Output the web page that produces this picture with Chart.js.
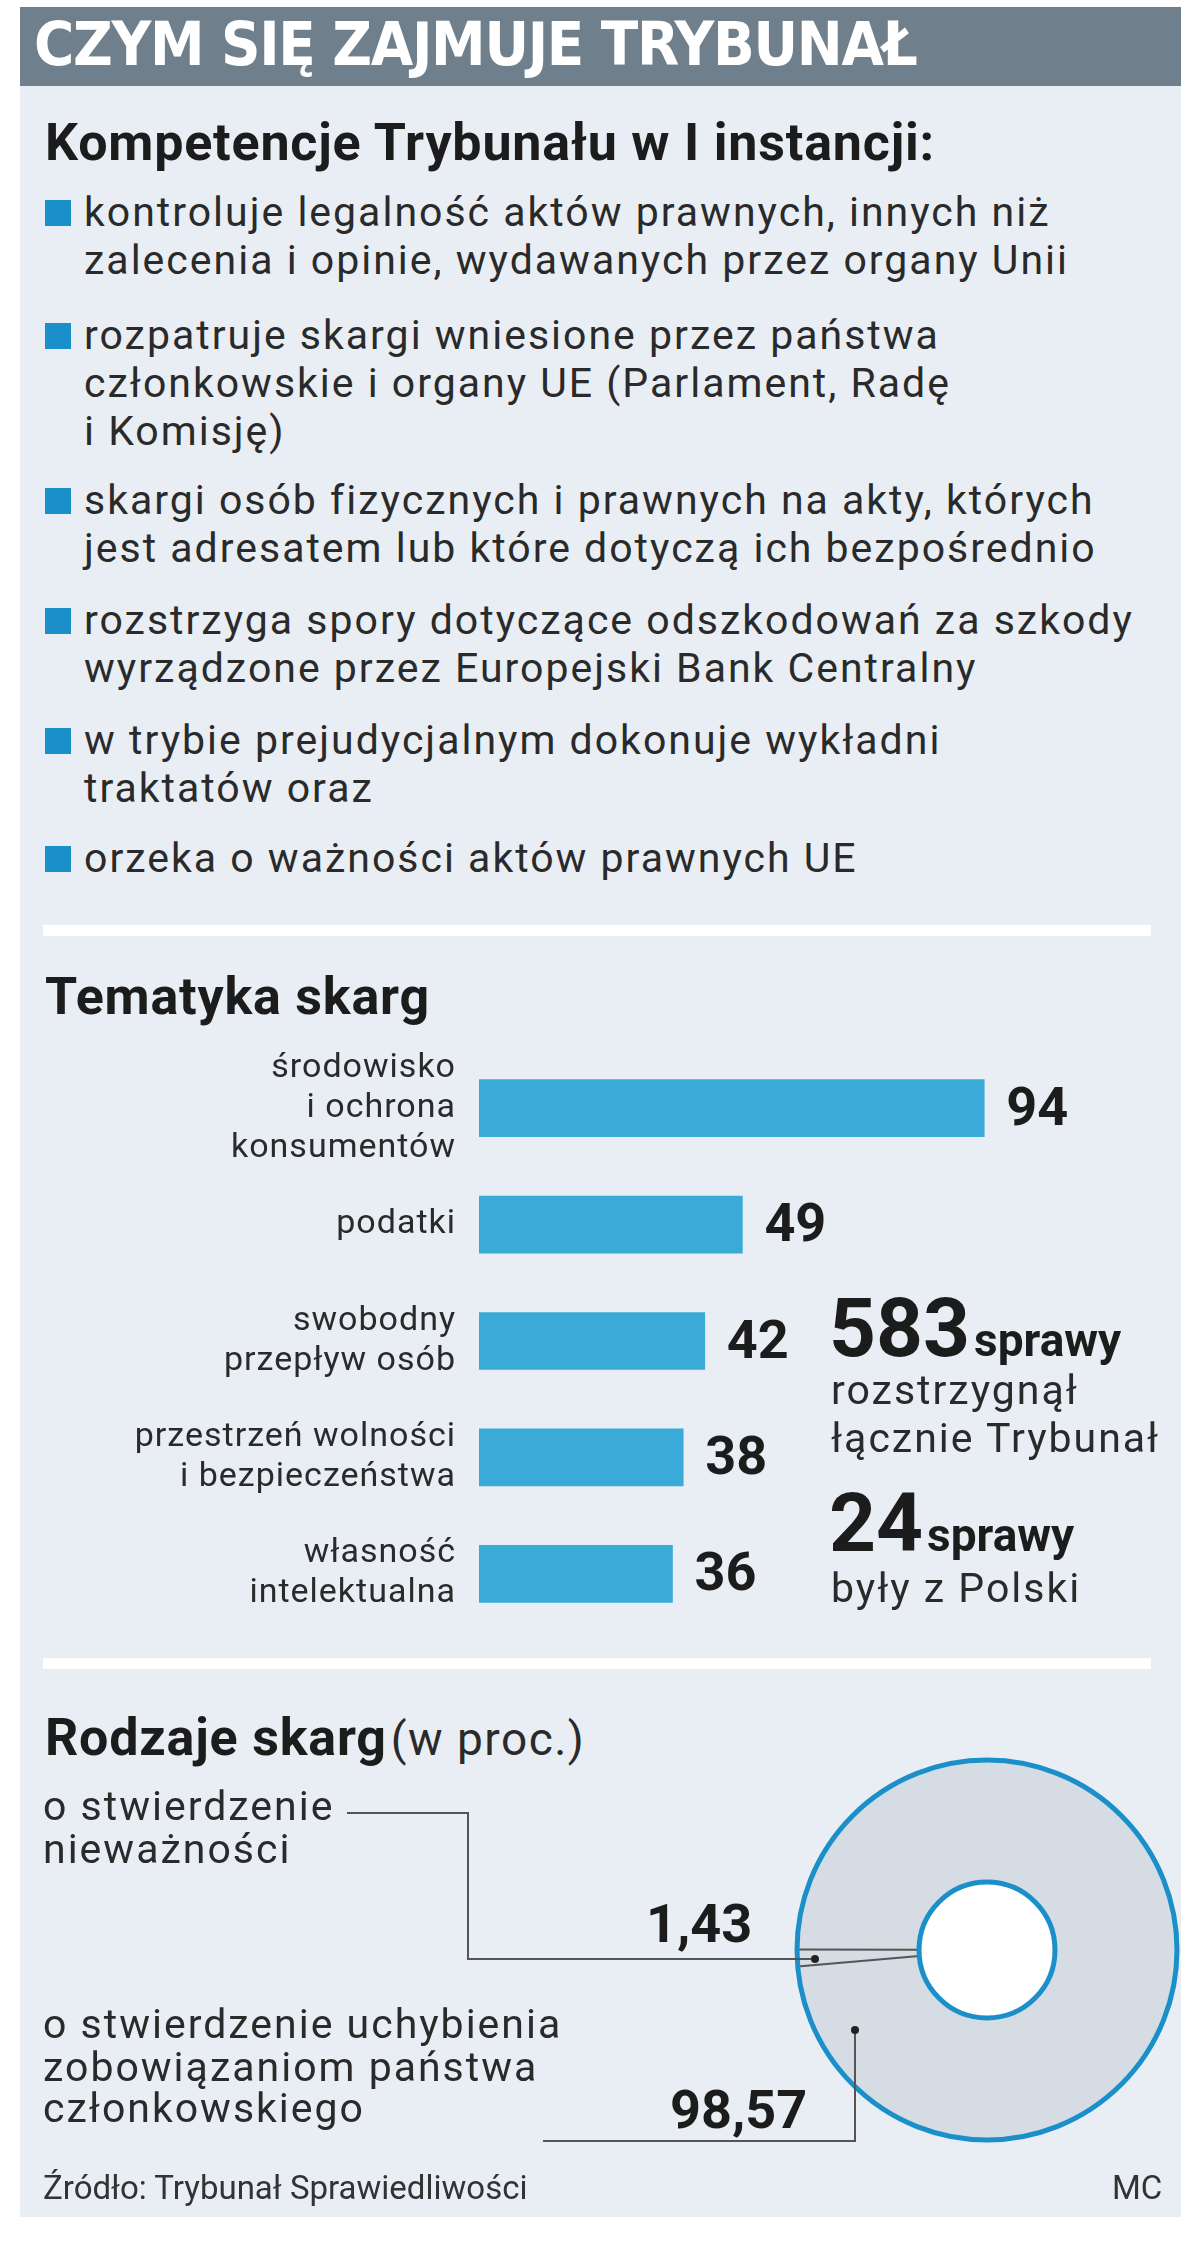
<!DOCTYPE html>
<html><head><meta charset="utf-8">
<script src="https://cdn.jsdelivr.net/npm/chart.js@4.4.0/dist/chart.umd.min.js"></script>
<style>
body{margin:0;width:1200px;height:2243px;background:#fff;position:relative;overflow:hidden;font-family:"Roboto","Liberation Sans",sans-serif;color:#222}
.a{position:absolute;white-space:nowrap}
#hdr{left:20px;top:7px;width:1161px;height:79px;background:#6f808c}
#panel{left:20px;top:86px;width:1161px;height:2131px;background:#e9eef4}
.sep{left:43px;width:1108px;height:11px;background:#fff}
.t{font-size:41px;line-height:48px;letter-spacing:2px;color:#2a2a2a}
.h{font-weight:bold;font-size:52px;line-height:60px;letter-spacing:0.8px;color:#1c1c1c}
.sq{width:26px;height:26px;background:#1a8fc9}
.big{font-weight:bold;font-size:82px;color:#1c1c1c}
.mid{font-weight:bold;font-size:46px;color:#1c1c1c}
</style></head><body>
<div class="a" id="hdr"></div>
<div class="a" id="panel"></div>
<div class="a" style="left:34px;top:8px;font-family:'DejaVu Sans Condensed','DejaVu Sans';font-weight:bold;font-size:61px;color:#fff;letter-spacing:-1.3px">CZYM SIĘ ZAJMUJE TRYBUNAŁ</div>
<div class="a h" style="left:45px;top:113px">Kompetencje Trybunału w I instancji:</div>
<div id="bullets"></div>
<div class="a sep" style="top:925px"></div>
<div class="a h" style="left:45px;top:967px">Tematyka skarg</div>
<div class="a" style="left:20px;top:1050px;width:1104px;height:582px"><canvas id="bar"></canvas></div>
<div class="a" style="left:829px;top:1278px;line-height:100px"><span class="big">583</span> <span class="mid">sprawy</span></div>
<div class="a t" style="left:831px;top:1366px">rozstrzygnął<br>łącznie Trybunał</div>
<div class="a" style="left:829px;top:1473px;line-height:100px"><span class="big">24</span> <span class="mid">sprawy</span></div>
<div class="a t" style="left:831px;top:1564px">były z Polski</div>
<div class="a sep" style="top:1658px"></div>
<div class="a" style="left:45px;top:1708px"><span class="h">Rodzaje skarg</span> <span style="font-size:46px;letter-spacing:1.5px;color:#2a2a2a">(w proc.)</span></div>
<div class="a" style="left:0;top:1700px;width:1200px;height:500px"><canvas id="pie"></canvas></div>
<div class="a" style="left:43px;top:2168px;font-size:33px;color:#333">Źródło: Trybunał Sprawiedliwości</div>
<div class="a" style="left:1112px;top:2168px;font-size:33px;color:#333">MC</div>
<script>
const bulletTexts=[
 ["kontroluje legalność aktów prawnych, innych niż","zalecenia i opinie, wydawanych przez organy Unii"],
 ["rozpatruje skargi wniesione przez państwa","członkowskie i organy UE (Parlament, Radę","i Komisję)"],
 ["skargi osób fizycznych i prawnych na akty, których","jest adresatem lub  które dotyczą ich bezpośrednio"],
 ["rozstrzyga spory dotyczące odszkodowań za szkody","wyrządzone przez Europejski Bank Centralny"],
 ["w trybie prejudycjalnym dokonuje wykładni","traktatów oraz"],
 ["orzeka o ważności aktów prawnych UE"]];
const bulletTops=[188,311,476,596,716,834];
const categories=[["środowisko","i ochrona","konsumentów"],["podatki"],["swobodny","przepływ osób"],["przestrzeń wolności","i bezpieczeństwa"],["własność","intelektualna"]];
const values=[94,49,42,38,36];
const pieLabels=["o stwierdzenie nieważności","o stwierdzenie uchybienia zobowiązaniom państwa członkowskiego"];
const pieValues=[1.43,98.57];

let html='';
bulletTexts.forEach((b,i)=>{
 html+=`<div class="a sq" style="left:45px;top:${bulletTops[i]+12}px"></div>`;
 html+=`<div class="a t" style="left:84px;top:${bulletTops[i]}px">${b.join('<br>')}</div>`;
});
document.getElementById('bullets').innerHTML=html;

const valPlugin={id:'vals',afterDatasetsDraw(c){const ctx=c.ctx;const m=c.getDatasetMeta(0);
 ctx.save();ctx.textBaseline='middle';
 m.data.forEach((b,i)=>{
  ctx.font='bold 54px Roboto';ctx.fillStyle='#1c1c1c';ctx.textAlign='left';ctx.letterSpacing='0px';
  ctx.fillText(String(values[i]),b.x+22,b.y+3);
  ctx.font='34px Roboto';ctx.fillStyle='#2a2a2a';ctx.textAlign='right';ctx.letterSpacing='1px';
  const L=categories[i],lh=40;
  L.forEach((s,j)=>ctx.fillText(s,436,b.y+(j-(L.length-1)/2)*lh));
 });ctx.restore();}};
new Chart(document.getElementById('bar'),{type:'bar',
 data:{labels:categories.map(c=>c.join(' ')),datasets:[{data:values,backgroundColor:'#3aaad8',barThickness:57}]},
 options:{indexAxis:'y',responsive:true,maintainAspectRatio:false,animation:false,
  layout:{padding:0},
  plugins:{legend:{display:false},tooltip:{enabled:false}},
  scales:{x:{min:0,max:120,display:false},
   y:{grid:{display:false},border:{display:false},afterFit(s){s.width=459;},ticks:{display:false}}}},
 plugins:[valPlugin]});

const CX=987,CY=245;
const piePlugin={id:'pp',afterDatasetsDraw(c){const ctx=c.ctx;ctx.save();
 const a=c.getDatasetMeta(0).data[0];
 ctx.fillStyle='#fff';ctx.beginPath();ctx.arc(a.x,a.y,68,0,Math.PI*2);ctx.fill();
 ctx.strokeStyle='#555';ctx.lineWidth=2;
 [a.startAngle,a.endAngle].forEach(t=>{ctx.beginPath();ctx.moveTo(a.x+68*Math.cos(t),a.y+68*Math.sin(t));ctx.lineTo(a.x+190*Math.cos(t),a.y+190*Math.sin(t));ctx.stroke();});
 ctx.strokeStyle='#1a8fc9';ctx.lineWidth=5;
 [190,68].forEach(r=>{ctx.beginPath();ctx.arc(a.x,a.y,r,0,Math.PI*2);ctx.stroke();});
 ctx.strokeStyle='#555';ctx.lineWidth=2;
 ctx.beginPath();ctx.moveTo(347,113);ctx.lineTo(468,113);ctx.lineTo(468,259);ctx.lineTo(815,259);ctx.stroke();
 ctx.beginPath();ctx.moveTo(543,441);ctx.lineTo(855,441);ctx.lineTo(855,330);ctx.stroke();
 ctx.fillStyle='#222';[[815,259],[855,330]].forEach(p=>{ctx.beginPath();ctx.arc(p[0],p[1],4,0,Math.PI*2);ctx.fill();});
 ctx.font='41px Roboto';ctx.letterSpacing='2px';ctx.fillStyle='#2a2a2a';ctx.textBaseline='middle';
 ctx.fillText('o stwierdzenie',43,110);ctx.fillText('nieważności',43,153);
 ctx.fillText('o stwierdzenie uchybienia',43,328);ctx.fillText('zobowiązaniom państwa',43,371);ctx.fillText('członkowskiego',43,412);
 ctx.font='bold 54px Roboto';ctx.letterSpacing='0px';ctx.fillStyle='#1c1c1c';
 ctx.fillText(String(pieValues[0]).replace('.',','),646,228);ctx.fillText(String(pieValues[1]).replace('.',','),670,414);
 ctx.restore();}};
new Chart(document.getElementById('pie'),{type:'doughnut',
 data:{labels:pieLabels,datasets:[{data:pieValues,backgroundColor:['#d5dce3','#d5dce3'],borderWidth:0}]},
 options:{responsive:true,maintainAspectRatio:false,animation:false,rotation:265,cutout:68,radius:190,
  layout:{padding:{left:2*CX-1200}},
  plugins:{legend:{display:false},tooltip:{enabled:false}}},
 plugins:[piePlugin]});
</script></body></html>
